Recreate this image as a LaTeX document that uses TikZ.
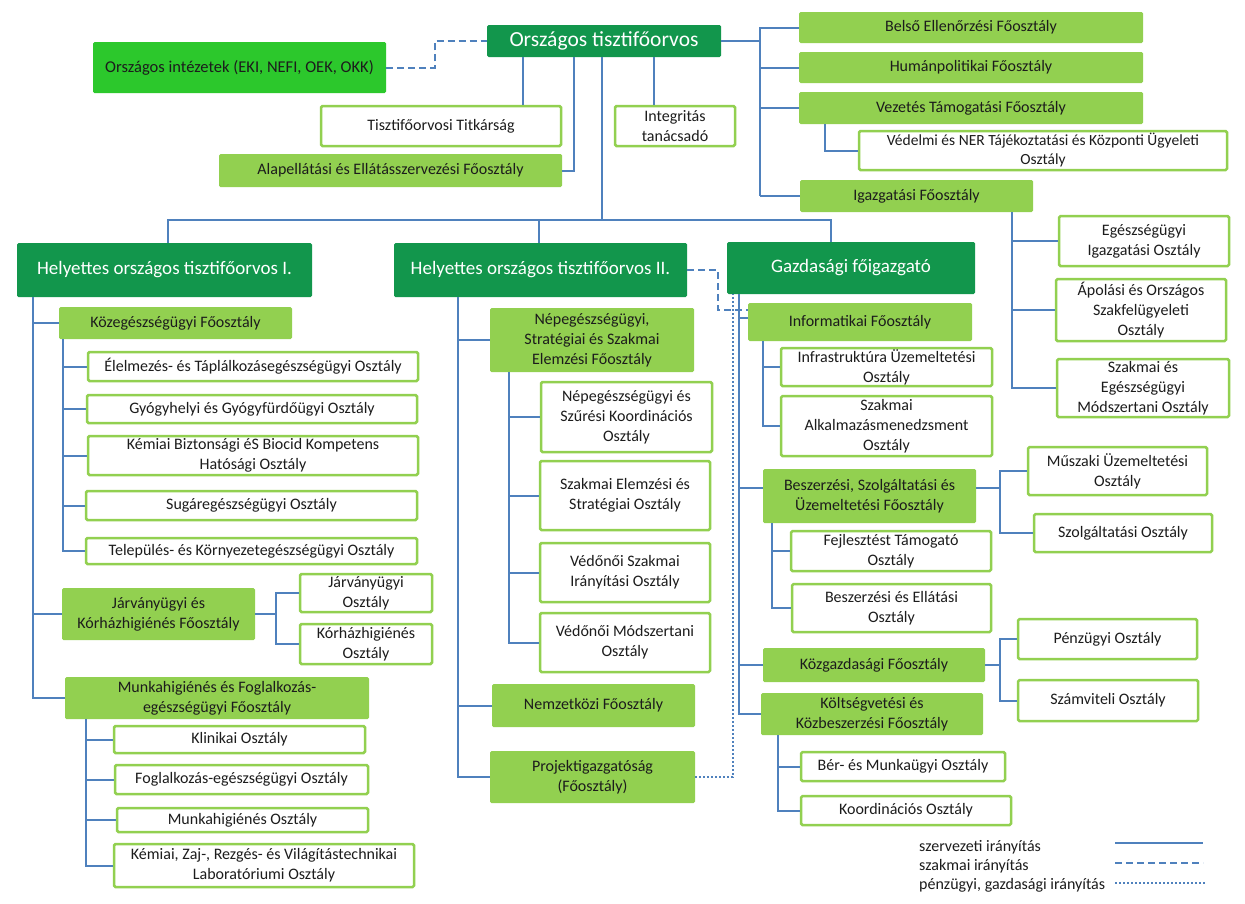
\documentclass[tikz,border=0pt]{standalone}
\usepackage{fontspec}
\setmainfont{Carlito}
\definecolor{dkg}{RGB}{18,150,76}
\definecolor{brg}{RGB}{44,200,44}
\definecolor{lgg}{RGB}{146,208,80}
\definecolor{lblue}{RGB}{79,129,189}
\definecolor{txt}{RGB}{28,28,28}
\tikzset{
  box/.style={rectangle, rounded corners=1.5pt, align=center, inner sep=1pt,
    font=\fontsize{16}{20}\selectfont, text=txt},
  dk/.style={box, fill=dkg, text=white, font=\fontsize{19}{22}\selectfont},
  br/.style={box, fill=brg, font=\fontsize{16.5}{20}\selectfont},
  lg/.style={box, fill=lgg},
  wt/.style={box, fill=white, draw=lgg, line width=2.5pt},
  org/.style={draw=lblue, line width=2pt},
  szak/.style={draw=lblue, line width=2pt, dash pattern=on 7pt off 4pt},
  penz/.style={draw=lblue, line width=2pt, dash pattern=on 2pt off 2pt},
  legtext/.style={anchor=west, inner sep=0pt, font=\fontsize{16}{18}\selectfont, text=txt},
}
\newcommand{\obox}[7]{\node[#1, minimum width={#5pt-#3pt}, minimum height={#6pt-#4pt}] (#2) at ({(#3+#5)/2},{(#4+#6)/2}) {#7};}
\begin{document}
\begin{tikzpicture}[x=1pt,y=-1pt]
\fill[white] (0,0) rectangle (1245,903);
\useasboundingbox (0,0) rectangle (1245,903);

% ---- top level
\obox{dk,font=\fontsize{21.5}{24}\selectfont}{ot}{487}{25}{721}{57}{Országos tisztifőorvos}
\obox{br}{oi}{93}{42}{386}{93}{Országos intézetek (EKI, NEFI, OEK, OKK)}
\obox{wt}{titk}{321}{106}{561}{146}{Tisztifőorvosi Titkárság}
\obox{lg}{alap}{219}{154}{562}{187}{Alapellátási és Ellátásszervezési Főosztály}
\obox{wt}{integ}{615}{106}{735}{146}{Integritás\\tanácsadó}

\obox{lg}{belso}{799}{12}{1143}{43}{Belső Ellenőrzési Főosztály}
\obox{lg}{human}{799}{52}{1143}{83}{Humánpolitikai Főosztály}
\obox{lg}{vez}{799}{92}{1143}{124}{Vezetés Támogatási Főosztály}
\obox{wt,font=\fontsize{15.5}{19}\selectfont}{ved}{859}{131}{1227}{170}{Védelmi és NER Tájékoztatási és Központi Ügyeleti\\Osztály}
\obox{lg}{igaz}{800}{180}{1033}{212}{Igazgatási Főosztály}
\obox{wt}{eui}{1059}{216}{1229}{266}{Egészségügyi\\Igazgatási Osztály}
\obox{wt}{apol}{1056}{279}{1226}{341}{Ápolási és Országos\\Szakfelügyeleti\\Osztály}
\obox{wt}{szmo}{1057}{359}{1229}{417}{Szakmai és\\Egészségügyi\\Módszertani Osztály}

% ---- deputies
\obox{dk}{h1}{17}{243}{312}{297}{Helyettes országos tisztifőorvos I.}
\obox{dk}{h2}{394}{243}{687}{297}{Helyettes országos tisztifőorvos II.}
\obox{dk}{gf}{727}{242}{975}{294}{Gazdasági főigazgató}

% ---- column 1
\obox{lg}{koz}{59}{307}{292}{339}{Közegészségügyi Főosztály}
\obox{wt}{elel}{88}{352}{418}{381}{Élelmezés- és Táplálkozásegészségügyi Osztály}
\obox{wt}{gyogy}{87}{395}{417}{423}{Gyógyhelyi és Gyógyfürdőügyi Osztály}
\obox{wt}{kemb}{88}{436}{418}{475}{Kémiai Biztonsági éS Biocid Kompetens\\Hatósági Osztály}
\obox{wt}{sug}{86}{491}{417}{520}{Sugáregészségügyi Osztály}
\obox{wt}{tel}{86}{538}{417}{564}{Település- és Környezetegészségügyi Osztály}
\obox{lg}{jarv}{62}{588}{255}{640}{Járványügyi és\\Kórházhigiénés Főosztály}
\obox{wt}{jo}{300}{574}{432}{612}{Járványügyi\\Osztály}
\obox{wt}{ko}{300}{624}{432}{664}{Kórházhigiénés\\Osztály}
\obox{lg}{munka}{65}{677}{369}{719}{Munkahigiénés és Foglalkozás-\\egészségügyi Főosztály}
\obox{wt}{klin}{114}{726}{365}{753}{Klinikai Osztály}
\obox{wt}{fogl}{115}{765}{368}{794}{Foglalkozás-egészségügyi Osztály}
\obox{wt}{mho}{117}{808}{368}{832}{Munkahigiénés Osztály}
\obox{wt}{kzaj}{114}{844}{414}{887}{Kémiai, Zaj-, Rezgés- és Világítástechnikai\\Laboratóriumi Osztály}

% ---- column 2
\obox{lg}{nep}{490}{308}{694}{372}{Népegészségügyi,\\Stratégiai és Szakmai\\Elemzési Főosztály}
\obox{wt}{nsz}{541}{382}{712}{452}{Népegészségügyi és\\Szűrési Koordinációs\\Osztály}
\obox{wt}{sze}{540}{461}{710}{530}{Szakmai Elemzési és\\Stratégiai Osztály}
\obox{wt}{vsz}{540}{543}{710}{602}{Védőnői Szakmai\\Irányítási Osztály}
\obox{wt}{vmo}{540}{613}{710}{672}{Védőnői Módszertani\\Osztály}
\obox{lg}{nemz}{492}{684}{695}{727}{Nemzetközi Főosztály}
\obox{lg}{proj}{490}{751}{695}{803}{Projektigazgatóság\\(Főosztály)}

% ---- column 3
\obox{lg}{info}{748}{303}{972}{341}{Informatikai Főosztály}
\obox{wt}{infra}{781}{348}{992}{386}{Infrastruktúra Üzemeltetési\\Osztály}
\obox{wt}{szalk}{781}{396}{992}{456}{Szakmai\\Alkalmazásmenedzsment\\Osztály}
\obox{lg}{besz}{763}{469}{976}{523}{Beszerzési, Szolgáltatási és\\Üzemeltetési Főosztály}
\obox{wt}{musz}{1028}{447}{1207}{495}{Műszaki Üzemeltetési\\Osztály}
\obox{wt}{szolg}{1034}{514}{1212}{552}{Szolgáltatási Osztály}
\obox{wt}{fejl}{791}{531}{991}{571}{Fejlesztést Támogató\\Osztály}
\obox{wt}{bell}{792}{584}{991}{632}{Beszerzési és Ellátási\\Osztály}
\obox{lg}{kozg}{763}{648}{985}{682}{Közgazdasági Főosztály}
\obox{wt}{penz}{1018}{619}{1197}{659}{Pénzügyi Osztály}
\obox{wt}{szamv}{1018}{680}{1198}{721}{Számviteli Osztály}
\obox{lg}{kolt}{761}{693}{983}{735}{Költségvetési és\\Közbeszerzési Főosztály}
\obox{wt}{ber}{801}{752}{1005}{781}{Bér- és Munkaügyi Osztály}
\obox{wt}{koord}{801}{796}{1011}{825}{Koordinációs Osztály}

% ---- connectors: organisational (solid)
\draw[org] (ot.south -| 523,0) -- (titk.north -| 523,0);
\draw[org] (ot.south -| 574,0) |- (alap.east);
\draw[org] (ot.south -| 654,0) -- (integ.north -| 654,0);
\draw[org] (ot.south -| 602,0) -- (602,220);
\draw[org] (h1.north -| 168,0) -- (168,220) -- (831,220) -- (gf.north -| 831,0);
\draw[org] (539,220) -- (h2.north -| 539,0);

\draw[org] (ot.east) -- (ot.east -| 760,0);
\draw[org] (760,27) -- (760,196);
\foreach \n in {belso,human,vez,igaz} \draw[org] (\n.west) -- (\n.west -| 760,0);
\draw[org] (vez.south -| 825,0) |- (ved.west);
\draw[org] (igaz.south -| 1012,0) |- (szmo.west);
\foreach \n in {eui,apol} \draw[org] (\n.west) -- (\n.west -| 1012,0);

\draw[org] (h1.south -| 33,0) |- (munka.west);
\foreach \n in {koz,jarv} \draw[org] (\n.west) -- (\n.west -| 33,0);
\draw[org] (koz.south -| 63,0) |- (tel.west);
\foreach \n in {elel,gyogy,kemb,sug} \draw[org] (\n.west) -- (\n.west -| 63,0);
\draw[org] (jarv.east) -- (jarv.east -| 276,0);
\draw[org] (jo.west) -- (jo.west -| 276,0) -- (ko.west -| 276,0) -- (ko.west);
\draw[org] (munka.south -| 86,0) |- (kzaj.west);
\foreach \n in {klin,fogl,mho} \draw[org] (\n.west) -- (\n.west -| 86,0);

\draw[org] (h2.south -| 458,0) |- (proj.west);
\foreach \n in {nep,nemz} \draw[org] (\n.west) -- (\n.west -| 458,0);
\draw[org] (nep.south -| 509,0) |- (vmo.west);
\foreach \n in {nsz,sze,vsz} \draw[org] (\n.west) -- (\n.west -| 509,0);

\draw[org] (gf.south -| 739,0) |- (kolt.west);
\draw[org] (info.west |- 0,318) -- (739,318);
\draw[org] (besz.west |- 0,488) -- (739,488);
\draw[org] (kozg.west) -- (kozg.west -| 739,0);
\draw[org] (info.south -| 763,0) |- (szalk.west);
\draw[org] (infra.west) -- (infra.west -| 763,0);
\draw[org] (besz.east |- 0,488) -- (1000,488);
\draw[org] (musz.west) -- (musz.west -| 1000,0) -- (szolg.west -| 1000,0) -- (szolg.west);
\draw[org] (besz.south -| 772,0) |- (bell.west);
\draw[org] (fejl.west) -- (fejl.west -| 772,0);
\draw[org] (kozg.east) -- (kozg.east -| 1000,0);
\draw[org] (penz.west) -- (penz.west -| 1000,0) -- (szamv.west -| 1000,0) -- (szamv.west);
\draw[org] (kolt.south -| 778,0) |- (koord.west);
\draw[org] (ber.west) -- (ber.west -| 778,0);

% ---- professional (dashed)
\draw[szak] (oi.east) -- (oi.east -| 435,0) |- (ot.west);
\draw[szak] (h2.east) -- (h2.east -| 718,0) |- (info.west |- 0,310);

% ---- financial (dotted)
\draw[penz] (proj.east) -| (gf.south -| 733,0);

% ---- legend
\node[legtext] (lt1) at (919,847) {szervezeti irányítás};
\node[legtext] (lt2) at (919,866) {szakmai irányítás};
\node[legtext] (lt3) at (919,885) {pénzügyi, gazdasági irányítás};
\coordinate (la1) at (1115,843); \coordinate (lb1) at (1203,843);
\coordinate (la2) at (1115,863); \coordinate (lb2) at (1203,863);
\coordinate (la3) at (1115,883); \coordinate (lb3) at (1205,883);
\draw[org] (la1) -- (lb1);
\draw[szak] (la2) -- (lb2);
\draw[penz] (la3) -- (lb3);
\end{tikzpicture}
\end{document}
